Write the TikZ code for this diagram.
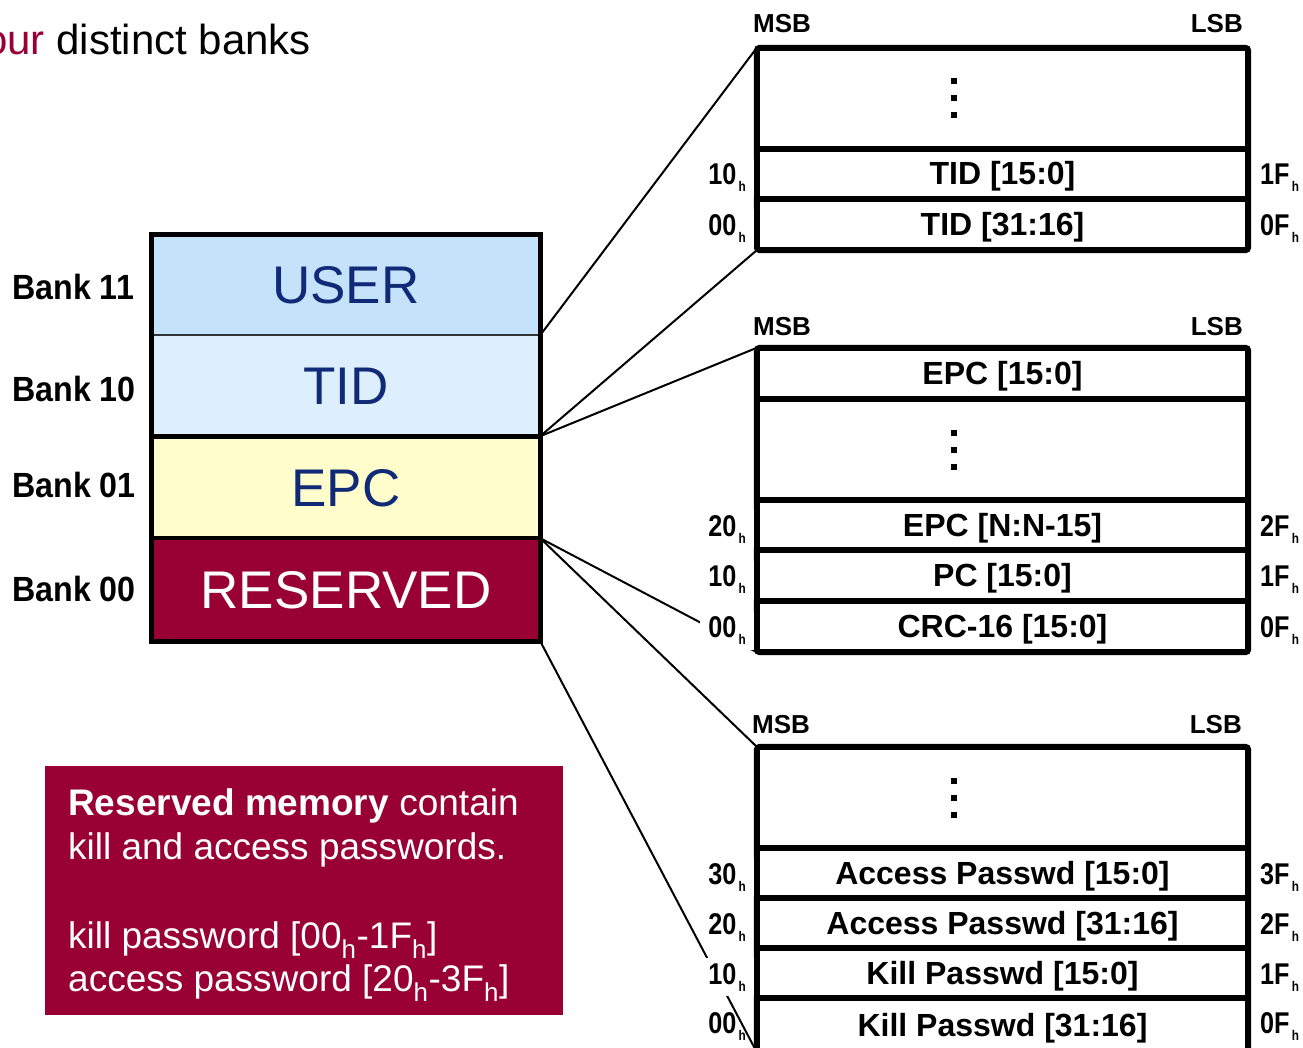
\documentclass[tikz,border=0pt]{standalone}
\usepackage{fontspec}
\setmainfont{Liberation Sans}
\newfontfamily\narrowf[FakeStretch=0.84]{Liberation Sans}
\newfontfamily\bankf[FakeStretch=0.92]{Liberation Sans}
\definecolor{resred}{HTML}{990033}
\definecolor{navy}{HTML}{102A78}
\definecolor{userblue}{HTML}{C5E2FB}
\definecolor{tidblue}{HTML}{DDEEFC}
\definecolor{epcyel}{HTML}{FFFDCC}
\newcommand\subh{\raisebox{-7pt}{\fontsize{14}{14}\selectfont\,h}}
\newcommand\memdots[1]{\foreach \dy in {-17,0,17}{\fill ([shift={(-51.5,\dy-3)}]#1.center) rectangle ++(6,6);}}
\tikzset{
  bankrow/.style={inner sep=0pt, minimum width=388pt, text height=38pt, text depth=0pt, font=\fontsize{53}{60}\selectfont},
  memrow/.style={inner sep=0pt, minimum width=491pt, text height=22pt, text depth=0pt, font=\bfseries\fontsize{32}{36}\selectfont},
  addrL/.style={anchor=east, fill=white, inner xsep=8pt, inner ysep=4pt, text height=22pt, text depth=8pt, font=\narrowf\bfseries\fontsize{30}{34}\selectfont},
  addrLnofill/.style={addrL, fill=none},
  addrR/.style={anchor=west, inner xsep=4pt, inner ysep=4pt, text height=22pt, text depth=8pt, font=\narrowf\bfseries\fontsize{30}{34}\selectfont},
  bitlab/.style={inner sep=0pt, text height=18pt, text depth=0pt, font=\bfseries\fontsize{26}{30}\selectfont},
  banklab/.style={anchor=west, inner sep=0pt, text height=25pt, text depth=0pt, font=\bankf\bfseries\fontsize{35}{40}\selectfont},
  conn/.style={line width=2pt, black},
  memframe/.style={line width=6pt, rounded corners=3pt},
  memsep/.style={line width=6pt},
  notetext/.style={anchor=base west, inner sep=0pt, text=white, font=\fontsize{37}{44}\selectfont}
}
\begin{document}
\begin{tikzpicture}[x=1pt,y=-1pt]
\useasboundingbox (0,0) rectangle (1303,1048);
\clip (0,0) rectangle (1303,1048);
\fill[white] (0,0) rectangle (1303,1048);

% title
\node[anchor=base west, inner sep=0pt, font=\fontsize{42}{50}\selectfont] (title) at (-16,55) {\textcolor{resred}{our} distinct banks};

% left memory banks
\node[bankrow, fill=userblue, text=navy, minimum height=100pt] (user) at (346,285) {USER};
\node[bankrow, fill=tidblue, text=navy, minimum height=101pt] (tid) at (346,385.5) {TID};
\node[bankrow, fill=epcyel, text=navy, minimum height=102pt] (epc) at (346,487) {EPC};
\node[bankrow, fill=resred, text=white, minimum height=103pt] (res) at (346,589.5) {RESERVED};
\draw[line width=2.5pt, black!80] (user.south west) -- (user.south east);
\draw[line width=5pt] (tid.south west) -- (tid.south east);
\draw[line width=4pt] (epc.south west) -- (epc.south east);
\draw[line width=5pt] (user.north west) rectangle (res.south east);

\node[banklab] (b11) at (12,287.5) {Bank 11};
\node[banklab] (b10) at (12,389) {Bank 10};
\node[banklab] (b01) at (12,485) {Bank 01};
\node[banklab] (b00) at (12,588.5) {Bank 00};

% TID memory map
\node[memrow, minimum height=101pt] (tidtop) at (1002.5,98.5) {};
\node[memrow, minimum height=50pt] (tid1) at (1002.5,174) {TID [15:0]};
\node[memrow, minimum height=51pt] (tid2) at (1002.5,224.5) {TID [31:16]};

% EPC memory map
\node[memrow, minimum height=51pt] (epc1) at (1002.5,373.5) {EPC [15:0]};
\node[memrow, minimum height=101pt] (epcdots) at (1002.5,449.5) {};
\node[memrow, minimum height=50pt] (epcn) at (1002.5,525) {EPC [N:N-15]};
\node[memrow, minimum height=51pt] (pc) at (1002.5,575.5) {PC [15:0]};
\node[memrow, minimum height=51pt] (crc) at (1002.5,626.5) {CRC-16 [15:0]};

% Reserved memory map
\node[memrow, minimum height=101pt] (pwtop) at (1002.5,797.5) {};
\node[memrow, minimum height=50pt] (ap1) at (1002.5,873) {Access Passwd [15:0]};
\node[memrow, minimum height=50pt] (ap2) at (1002.5,923) {Access Passwd [31:16]};
\node[memrow, minimum height=50pt] (kp1) at (1002.5,973) {Kill Passwd [15:0]};
\node[memrow, minimum height=54pt] (kp2) at (1002.5,1025) {Kill Passwd [31:16]};

% connectors
\draw[conn] (user.south east) -- (tidtop.north west);
\draw[conn] (tid.south east) -- (tid2.south west);
\draw[conn] (tid.south east) -- (epc1.north west);
\draw[conn] (epc.south east) -- (crc.south west);
\draw[conn] (epc.south east) -- (pwtop.north west);
\draw[conn] (res.south east) -- (kp2.south west);

% frames
\draw[memframe] (tidtop.north west) rectangle (tid2.south east);
\draw[memsep] (tidtop.south west) -- (tidtop.south east);
\draw[memsep] (tid1.south west) -- (tid1.south east);
\memdots{tidtop}

\draw[memframe] (epc1.north west) rectangle (crc.south east);
\draw[memsep] (epc1.south west) -- (epc1.south east);
\draw[memsep] (epcdots.south west) -- (epcdots.south east);
\draw[memsep] (epcn.south west) -- (epcn.south east);
\draw[memsep] (pc.south west) -- (pc.south east);
\memdots{epcdots}

\draw[memframe] (pwtop.north west) rectangle (kp2.south east);
\draw[memsep] (pwtop.south west) -- (pwtop.south east);
\draw[memsep] (ap1.south west) -- (ap1.south east);
\draw[memsep] (ap2.south west) -- (ap2.south east);
\draw[memsep] (kp1.south west) -- (kp1.south east);
\memdots{pwtop}

% MSB / LSB
\node[bitlab, anchor=west] (msb1) at (753,24) {MSB};
\node[bitlab, anchor=east] (lsb1) at (1243,24) {LSB};
\node[bitlab, anchor=west] (msb2) at (753,326) {MSB};
\node[bitlab, anchor=east] (lsb2) at (1243,326) {LSB};
\node[bitlab, anchor=west] (msb3) at (752,724) {MSB};
\node[bitlab, anchor=east] (lsb3) at (1242,724) {LSB};

% address labels
\node[addrL] (t10) at (754,178) {10\subh};
\node[addrL] (t00) at (754,228.5) {00\subh};
\node[addrR] (t1F) at (1256,178) {1F\subh};
\node[addrR] (t0F) at (1256,228.5) {0F\subh};

\node[addrL] (e20) at (754,529) {20\subh};
\node[addrL] (e10) at (754,579.5) {10\subh};
\node[addrL] (e00) at (754,630.5) {00\subh};
\node[addrR] (e2F) at (1256,529) {2F\subh};
\node[addrR] (e1F) at (1256,579.5) {1F\subh};
\node[addrR] (e0F) at (1256,630.5) {0F\subh};

\node[addrL] (r30) at (754,877) {30\subh};
\node[addrLnofill] (r20) at (754,927) {20\subh};
\node[addrL] (r10) at (754,977) {10\subh};
\node[addrLnofill] (r00) at (754,1026) {00\subh};
\node[addrR] (r3F) at (1256,877) {3F\subh};
\node[addrR] (r2F) at (1256,927) {2F\subh};
\node[addrR] (r1F) at (1256,977) {1F\subh};
\node[addrR] (r0F) at (1256,1026) {0F\subh};

% note box
\node[fill=resred, minimum width=518pt, minimum height=249pt, inner sep=0pt, anchor=north west] (note) at (45,766) {};
\node[notetext] (n1) at (68,815) {\textbf{Reserved memory} contain};
\node[notetext] (n2) at (68,859) {kill and access passwords.};
\node[notetext] (n3) at (68,948) {kill password [00\textsubscript{h}-1F\textsubscript{h}]};
\node[notetext] (n4) at (68,991) {access password [20\textsubscript{h}-3F\textsubscript{h}]};
\end{tikzpicture}
\end{document}
